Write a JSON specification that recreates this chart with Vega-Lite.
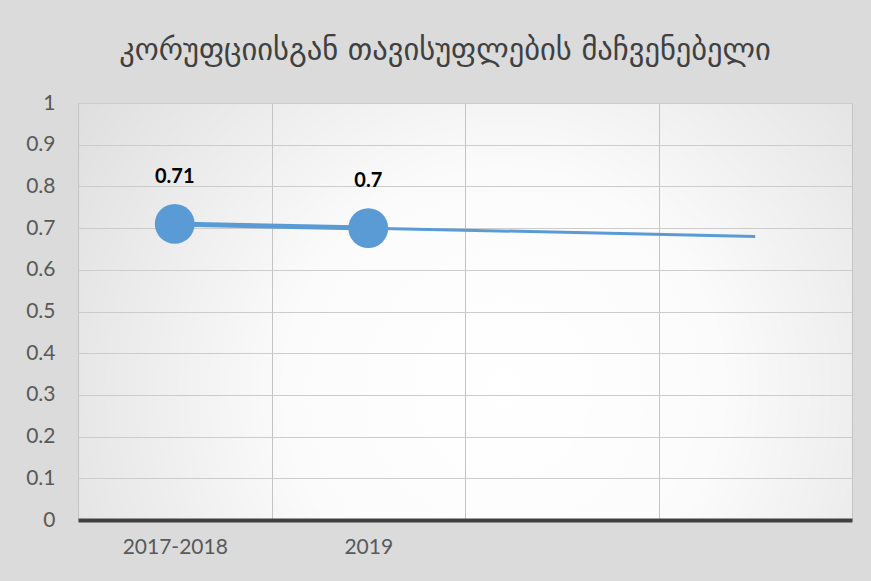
{
  "$schema": "https://vega.github.io/schema/vega-lite/v6.json",
  "width": 774,
  "height": 417,
  "autosize": {"type": "none"},
  "padding": {"left": 78, "top": 103, "right": 19, "bottom": 61},
  "background": "#dbdbdb",
  "title": {
    "text": "კორუფციისგან თავისუფლების მაჩვენებელი",
    "font": "DejaVu Sans",
    "fontSize": 30.5,
    "fontWeight": "normal",
    "color": "#404040",
    "anchor": "middle",
    "frame": "group",
    "dx": -20,
    "offset": 26
  },
  "config": {
    "view": {
      "stroke": "#c8c8c8",
      "fill": {
        "gradient": "radial",
        "x1": 0.55, "y1": 0.6, "r1": 0,
        "x2": 0.55, "y2": 0.6, "r2": 0.8,
        "stops": [
          {"offset": 0, "color": "#ffffff"},
          {"offset": 0.35, "color": "#fbfbfb"},
          {"offset": 1, "color": "#d4d4d4"}
        ]
      }
    }
  },
  "data": {
    "values": [
      {"s": "data", "cat": "2017-2018", "v": 0.71},
      {"s": "data", "cat": "2019", "v": 0.70},
      {"s": "trend", "cat": "2017-2018", "v": 0.71},
      {"s": "trend", "cat": "c4", "v": 0.68}
    ]
  },
  "encoding": {
    "x": {
      "field": "cat",
      "type": "nominal",
      "sort": null,
      "scale": {"domain": ["2017-2018", "2019", "c3", "c4"], "paddingInner": 0, "paddingOuter": 0},
      "axis": {
        "title": null,
        "labelExpr": "indexof(['c3','c4'], datum.value) >= 0 ? '' : datum.value",
        "tickBand": "extent",
        "grid": true,
        "gridColor": "#c4c4c4",
        "gridWidth": 1,
        "ticks": false,
        "tickSize": 0,
        "domainColor": "#404040",
        "domainWidth": 4,
        "labelAngle": 0,
        "labelFont": "Lato",
        "labelFontSize": 21,
        "labelColor": "#595959",
        "labelPadding": 16
      }
    },
    "y": {
      "field": "v",
      "type": "quantitative",
      "scale": {"domain": [0, 1], "nice": false, "zero": true},
      "axis": {
        "title": null,
        "values": [0, 0.1, 0.2, 0.3, 0.4, 0.5, 0.6, 0.7, 0.8, 0.9, 1],
        "format": "~g",
        "grid": true,
        "gridColor": "#cccccc",
        "gridWidth": 1,
        "domain": false,
        "ticks": false,
        "tickSize": 0,
        "labelFont": "Lato",
        "labelFontSize": 21,
        "labelColor": "#595959",
        "labelPadding": 23
      }
    }
  },
  "layer": [
    {
      "transform": [{"filter": "datum.s == 'trend'"}],
      "mark": {"type": "line", "color": "#5B9BD5", "strokeWidth": 3}
    },
    {
      "transform": [{"filter": "datum.s == 'data'"}],
      "mark": {"type": "line", "color": "#5B9BD5", "strokeWidth": 5}
    },
    {
      "transform": [{"filter": "datum.s == 'data'"}],
      "mark": {"type": "circle", "color": "#5B9BD5", "size": 1590, "opacity": 1}
    },
    {
      "transform": [{"filter": "datum.s == 'data'"}],
      "mark": {"type": "text", "font": "Lato", "fontSize": 20, "fontWeight": "bold", "color": "#000000", "baseline": "middle", "dy": -47},
      "encoding": {"text": {"field": "v", "type": "quantitative", "format": "~g"}}
    }
  ]
}
